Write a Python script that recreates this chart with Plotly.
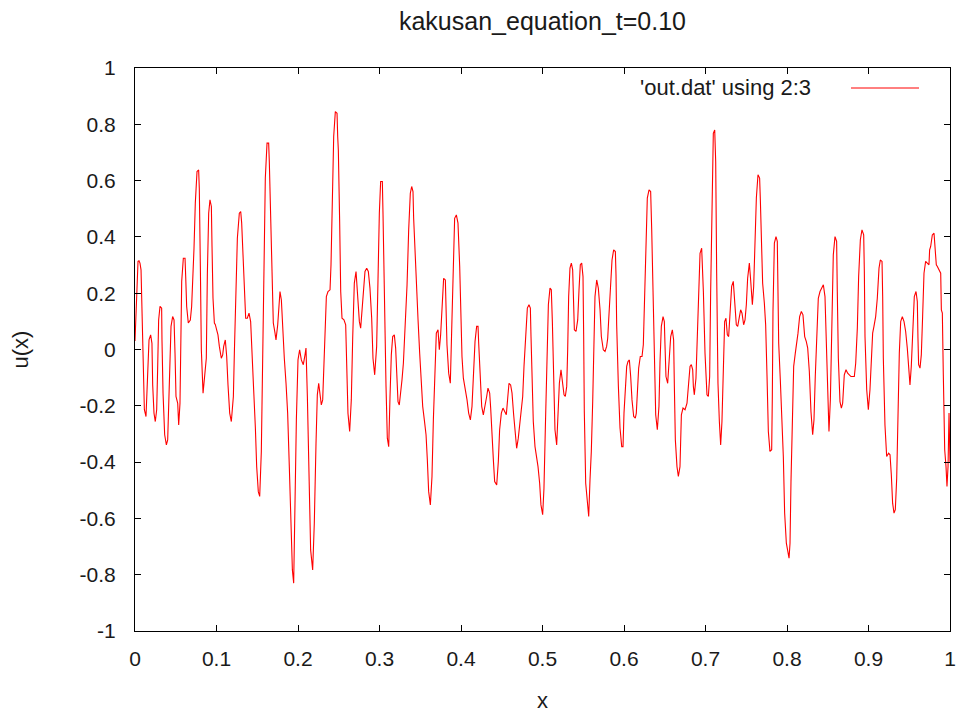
import plotly.graph_objects as go

# ---- data (x, u(x)) ----
seg1_x = [0.000, 0.0037, 0.0049, 0.0061, 0.0074, 0.0086, 0.0098, 0.0115, 0.0135, 0.0155, 0.0172, 0.0192, 0.0208, 0.0217, 0.0233, 0.0249, 0.0266, 0.0278, 0.0290, 0.0307, 0.0327, 0.0331, 0.0344, 0.0364, 0.0385, 0.0401, 0.0413, 0.0426, 0.0442, 0.0462, 0.0479, 0.0491, 0.0503, 0.0524, 0.0536, 0.0552, 0.0560, 0.0573, 0.0593, 0.0614, 0.0622, 0.0634, 0.0654, 0.0679, 0.0695, 0.0708, 0.0724, 0.0740, 0.0761, 0.0781, 0.0789, 0.0802, 0.0814, 0.0835, 0.0875, 0.0888, 0.0904, 0.0920, 0.0937, 0.0945, 0.0957, 0.0974]
seg1_u = [0.03, 0.313, 0.315, 0.307, 0.283, 0.123, -0.067, -0.214, -0.238, -0.084, 0.034, 0.052, 0.022, -0.126, -0.226, -0.256, -0.214, -0.066, 0.105, 0.153, 0.147, 0.034, -0.155, -0.303, -0.339, -0.321, -0.220, -0.060, 0.082, 0.117, 0.105, -0.013, -0.167, -0.191, -0.268, -0.191, 0.034, 0.242, 0.324, 0.324, 0.259, 0.153, 0.094, 0.105, 0.153, 0.236, 0.360, 0.520, 0.632, 0.638, 0.573, 0.295, -0.001, -0.155, -0.031, 0.271, 0.484, 0.532, 0.508, 0.366, 0.182, 0.094]

seg2_x = [0.0986, 0.1002, 0.1018, 0.1035, 0.1059, 0.1076, 0.1088, 0.1108, 0.1125, 0.1141, 0.1162, 0.1182, 0.1198, 0.1207, 0.1219, 0.1239, 0.1256, 0.1280, 0.1297, 0.1309, 0.1325, 0.1342, 0.1358, 0.1378, 0.1399, 0.1419, 0.1436, 0.1456, 0.1477, 0.1493, 0.1513, 0.1530, 0.1550, 0.1567, 0.1583, 0.1599, 0.1620, 0.1640, 0.1648, 0.1665, 0.1681, 0.1697, 0.1718, 0.1730, 0.1751, 0.1767, 0.1779, 0.1796, 0.1812, 0.1832, 0.1853, 0.1873, 0.1894, 0.1914, 0.1931, 0.1947, 0.1963, 0.1980]
seg2_u = [0.088, 0.070, 0.052, 0.011, -0.031, -0.019, 0.011, 0.034, -0.025, -0.125, -0.226, -0.256, -0.214, -0.167, -0.013, 0.218, 0.395, 0.484, 0.490, 0.449, 0.313, 0.182, 0.111, 0.111, 0.129, 0.099, 0.005, -0.143, -0.279, -0.416, -0.505, -0.522, -0.362, -0.054, 0.289, 0.609, 0.733, 0.733, 0.668, 0.484, 0.242, 0.094, 0.058, 0.034, 0.088, 0.170, 0.206, 0.176, 0.058, -0.031, -0.120, -0.226, -0.421, -0.646, -0.783, -0.830, -0.534, -0.250]

seg3_x = [0.2000, 0.2020, 0.2041, 0.2065, 0.2086, 0.2098, 0.2115, 0.2135, 0.2155, 0.2180, 0.2200, 0.2221, 0.2237, 0.2254, 0.2270, 0.2286, 0.2303, 0.2315, 0.2331, 0.2348, 0.2368, 0.2393, 0.2405, 0.2417, 0.2438, 0.2458, 0.2479, 0.2487, 0.2495, 0.2511, 0.2524, 0.2540, 0.2564, 0.2585, 0.2597, 0.2613, 0.2634, 0.2654, 0.2671, 0.2691, 0.2712, 0.2732, 0.2753, 0.2769, 0.2785, 0.2802, 0.2822, 0.2843, 0.2863, 0.2883, 0.2904, 0.2920, 0.2941]
seg3_u = [-0.037, -0.001, -0.037, -0.054, -0.019, 0.005, -0.167, -0.433, -0.712, -0.783, -0.617, -0.333, -0.161, -0.120, -0.155, -0.197, -0.179, -0.084, 0.088, 0.188, 0.206, 0.212, 0.301, 0.508, 0.757, 0.845, 0.839, 0.757, 0.709, 0.455, 0.206, 0.111, 0.105, 0.088, -0.043, -0.226, -0.291, -0.179, 0.040, 0.236, 0.277, 0.182, 0.099, 0.076, 0.135, 0.218, 0.277, 0.289, 0.277, 0.218, 0.111, -0.031, -0.090]

seg4_x = [0.2965, 0.2978, 0.2998, 0.3014, 0.3035, 0.3043, 0.3059, 0.3080, 0.3096, 0.3113, 0.3129, 0.3145, 0.3162, 0.3182, 0.3198, 0.3211, 0.3227, 0.3243, 0.3260, 0.3276, 0.3293, 0.3313, 0.3338, 0.3358, 0.3378, 0.3395, 0.3411, 0.3419, 0.3436, 0.3452, 0.3473, 0.3493, 0.3513, 0.3530, 0.3550, 0.3571, 0.3587, 0.3603, 0.3624, 0.3644, 0.3661, 0.3681, 0.3697, 0.3718, 0.3734, 0.3750, 0.3771, 0.3787, 0.3808, 0.3816, 0.3828, 0.3849, 0.3869, 0.3890, 0.3906, 0.3922, 0.3943, 0.3963]
seg4_u = [0.011, 0.224, 0.484, 0.597, 0.597, 0.484, 0.176, -0.131, -0.315, -0.345, -0.167, -0.019, 0.046, 0.052, 0.005, -0.108, -0.185, -0.197, -0.161, -0.108, -0.049, 0.070, 0.230, 0.425, 0.555, 0.579, 0.561, 0.466, 0.336, 0.200, 0.105, -0.013, -0.120, -0.202, -0.250, -0.303, -0.392, -0.504, -0.552, -0.451, -0.250, -0.025, 0.058, 0.070, -0.001, 0.052, 0.170, 0.253, 0.247, 0.176, 0.017, -0.084, -0.120, 0.117, 0.330, 0.466, 0.478, 0.449]

seg5_x = [0.3984, 0.3996, 0.4012, 0.4029, 0.4049, 0.4061, 0.4074, 0.4094, 0.4115, 0.4135, 0.4151, 0.4172, 0.4192, 0.4209, 0.4217, 0.4233, 0.4254, 0.4274, 0.4294, 0.4315, 0.4331, 0.4352, 0.4364, 0.4376, 0.4397, 0.4413, 0.4438, 0.4458, 0.4474, 0.4495, 0.4515, 0.4536, 0.4556, 0.4573, 0.4589, 0.4609, 0.4626, 0.4646, 0.4667, 0.4683, 0.4703, 0.4724, 0.4740, 0.4757, 0.4773, 0.4793, 0.4814, 0.4834, 0.4851, 0.4859, 0.4871, 0.4887, 0.4908, 0.4928, 0.4945, 0.4965, 0.4981]
seg5_u = [0.295, 0.123, -0.025, -0.102, -0.131, -0.149, -0.179, -0.226, -0.250, -0.202, -0.084, 0.028, 0.082, 0.082, 0.022, -0.090, -0.202, -0.232, -0.191, -0.167, -0.137, -0.155, -0.208, -0.291, -0.392, -0.469, -0.481, -0.398, -0.285, -0.226, -0.208, -0.220, -0.232, -0.173, -0.120, -0.126, -0.155, -0.232, -0.321, -0.351, -0.315, -0.262, -0.214, -0.167, -0.060, 0.046, 0.147, 0.159, 0.147, 0.046, -0.114, -0.256, -0.345, -0.380, -0.416, -0.475, -0.552]

seg6_x = [0.5002, 0.5018, 0.5035, 0.5051, 0.5072, 0.5092, 0.5108, 0.5121, 0.5137, 0.5153, 0.5174, 0.5190, 0.5207, 0.5227, 0.5247, 0.5264, 0.5280, 0.5297, 0.5309, 0.5321, 0.5337, 0.5354, 0.5370, 0.5378, 0.5391, 0.5411, 0.5432, 0.5448, 0.5464, 0.5481, 0.5497, 0.5505, 0.5513, 0.5530, 0.5550, 0.5567, 0.5583, 0.5599, 0.5616, 0.5632, 0.5644, 0.5665, 0.5685, 0.5706, 0.5722, 0.5746, 0.5767, 0.5787, 0.5800, 0.5812, 0.5832, 0.5853, 0.5873, 0.5894, 0.5902, 0.5910, 0.5931, 0.5951, 0.5972]
seg6_u = [-0.587, -0.493, -0.279, -0.037, 0.159, 0.218, 0.212, 0.099, -0.120, -0.285, -0.339, -0.250, -0.120, -0.072, -0.114, -0.161, -0.167, -0.131, -0.001, 0.188, 0.289, 0.307, 0.283, 0.165, 0.070, 0.064, 0.105, 0.212, 0.301, 0.307, 0.259, 0.052, -0.220, -0.475, -0.552, -0.593, -0.463, -0.362, -0.185, 0.022, 0.188, 0.247, 0.218, 0.141, 0.046, -0.001, -0.007, 0.011, 0.040, 0.105, 0.206, 0.318, 0.354, 0.348, 0.265, 0.088, -0.131, -0.279, -0.345]

seg7_x = [0.5988, 0.6000, 0.6016, 0.6033, 0.6049, 0.6066, 0.6082, 0.6098, 0.6119, 0.6139, 0.6151, 0.6164, 0.6180, 0.6200, 0.6221, 0.6237, 0.6254, 0.6270, 0.6286, 0.6307, 0.6327, 0.6340, 0.6356, 0.6372, 0.6389, 0.6409, 0.6429, 0.6442, 0.6458, 0.6479, 0.6495, 0.6503, 0.6515, 0.6536, 0.6552, 0.6573, 0.6593, 0.6609, 0.6618, 0.6630, 0.6650, 0.6667, 0.6687, 0.6695, 0.6704, 0.6724, 0.6749, 0.6773, 0.6789, 0.6810, 0.6826, 0.6843, 0.6851, 0.6863, 0.6883, 0.6900, 0.6916, 0.6933, 0.6953, 0.6974, 0.6994]
seg7_u = [-0.345, -0.226, -0.131, -0.060, -0.043, -0.037, -0.096, -0.179, -0.238, -0.244, -0.226, -0.143, -0.066, -0.025, -0.025, 0.017, 0.170, 0.360, 0.538, 0.567, 0.561, 0.425, 0.194, -0.072, -0.232, -0.285, -0.202, -0.043, 0.082, 0.117, 0.099, 0.017, -0.096, -0.120, -0.037, 0.046, 0.070, 0.034, -0.131, -0.321, -0.416, -0.451, -0.416, -0.309, -0.232, -0.208, -0.214, -0.191, -0.126, -0.060, -0.054, -0.072, -0.131, -0.161, -0.102, 0.034, 0.218, 0.342, 0.360, 0.206, -0.013]

seg8_x = [0.7018, 0.7035, 0.7051, 0.7063, 0.7080, 0.7096, 0.7113, 0.7125, 0.7137, 0.7153, 0.7170, 0.7186, 0.7202, 0.7219, 0.7235, 0.7251, 0.7268, 0.7284, 0.7301, 0.7321, 0.7341, 0.7358, 0.7378, 0.7395, 0.7411, 0.7431, 0.7448, 0.7468, 0.7485, 0.7501, 0.7517, 0.7538, 0.7554, 0.7575, 0.7591, 0.7607, 0.7624, 0.7644, 0.7664, 0.7673, 0.7685, 0.7701, 0.7722, 0.7738, 0.7755, 0.7771, 0.7791, 0.7812, 0.7820, 0.7828, 0.7845, 0.7865, 0.7881, 0.7890, 0.7898, 0.7918, 0.7935, 0.7955, 0.7971, 0.7992]
seg8_u = [-0.161, -0.167, -0.096, 0.200, 0.555, 0.768, 0.780, 0.668, 0.271, -0.120, -0.256, -0.339, -0.256, -0.037, 0.099, 0.111, 0.052, 0.046, 0.141, 0.224, 0.242, 0.159, 0.088, 0.082, 0.111, 0.141, 0.129, 0.088, 0.105, 0.159, 0.253, 0.307, 0.247, 0.159, 0.224, 0.354, 0.538, 0.621, 0.609, 0.532, 0.360, 0.236, 0.165, 0.088, -0.096, -0.291, -0.362, -0.356, -0.167, 0.135, 0.378, 0.401, 0.384, 0.212, 0.022, -0.108, -0.208, -0.380, -0.581, -0.688]

seg9_x = [0.8025, 0.8037, 0.8049, 0.8065, 0.8082, 0.8102, 0.8119, 0.8135, 0.8155, 0.8176, 0.8196, 0.8205, 0.8217, 0.8237, 0.8254, 0.8274, 0.8294, 0.8315, 0.8331, 0.8347, 0.8368, 0.8384, 0.8405, 0.8425, 0.8446, 0.8466, 0.8483, 0.8499, 0.8515, 0.8532, 0.8552, 0.8568, 0.8589, 0.8609, 0.8617, 0.8630, 0.8650, 0.8667, 0.8683, 0.8691, 0.8703, 0.8724, 0.8744, 0.8785, 0.8826, 0.8843, 0.8863, 0.8879, 0.8900, 0.8920, 0.8941, 0.8949, 0.8957, 0.8978, 0.8998]
seg9_u = [-0.741, -0.688, -0.469, -0.226, -0.060, -0.013, 0.017, 0.058, 0.117, 0.135, 0.123, 0.082, 0.046, 0.028, 0.005, -0.078, -0.220, -0.303, -0.250, -0.096, 0.088, 0.182, 0.206, 0.218, 0.230, 0.188, 0.034, -0.167, -0.291, -0.179, 0.105, 0.336, 0.401, 0.384, 0.206, -0.031, -0.185, -0.208, -0.191, -0.126, -0.090, -0.072, -0.084, -0.096, -0.096, -0.049, 0.076, 0.259, 0.390, 0.425, 0.407, 0.277, 0.046, -0.143, -0.214]

seg10_x = [0.9018, 0.9035, 0.9051, 0.9067, 0.9088, 0.9108, 0.9129, 0.9145, 0.9166, 0.9174, 0.9182, 0.9202, 0.9223, 0.9247, 0.9264, 0.9280, 0.9296, 0.9313, 0.9329, 0.9346, 0.9362, 0.9378, 0.9395, 0.9415, 0.9436, 0.9456, 0.9476, 0.9493, 0.9509, 0.9525, 0.9542, 0.9562, 0.9583, 0.9599, 0.9607, 0.9615, 0.9632, 0.9648, 0.9664, 0.9681, 0.9701, 0.9722, 0.9742, 0.9750, 0.9763, 0.9783, 0.9804, 0.9820, 0.9832, 0.9845, 0.9865, 0.9886, 0.9894, 0.9906, 0.9918, 0.9935, 0.9951, 0.9963, 0.9976, 0.9988, 1.0000]
seg10_u = [-0.143, -0.031, 0.058, 0.082, 0.117, 0.182, 0.289, 0.318, 0.313, 0.188, -0.031, -0.268, -0.380, -0.368, -0.374, -0.445, -0.546, -0.581, -0.569, -0.457, -0.208, -0.013, 0.099, 0.117, 0.099, 0.064, 0.005, -0.078, -0.126, -0.060, 0.076, 0.188, 0.206, 0.170, 0.040, -0.054, -0.066, -0.019, 0.117, 0.271, 0.313, 0.307, 0.301, 0.354, 0.366, 0.407, 0.413, 0.348, 0.301, 0.295, 0.283, 0.271, 0.141, 0.129, -0.090, -0.356, -0.416, -0.487, -0.416, -0.226, -0.400]

x_ticks = [0, 0.1, 0.2, 0.3, 0.4, 0.5, 0.6, 0.7, 0.8, 0.9, 1]
x_tick_labels = ["0", "0.1", "0.2", "0.3", "0.4", "0.5", "0.6", "0.7", "0.8", "0.9", "1"]
y_ticks = [-1, -0.8, -0.6, -0.4, -0.2, 0, 0.2, 0.4, 0.6, 0.8, 1]
y_tick_labels = ["-1", "-0.8", "-0.6", "-0.4", "-0.2", "0", "0.2", "0.4", "0.6", "0.8", "1"]

title_text = "kakusan_equation_t=0.10"
legend_text = "'out.dat' using 2:3"

segs_x = [seg1_x, seg2_x, seg3_x, seg4_x, seg5_x, seg6_x, seg7_x, seg8_x, seg9_x, seg10_x]
segs_u = [seg1_u, seg2_u, seg3_u, seg4_u, seg5_u, seg6_u, seg7_u, seg8_u, seg9_u, seg10_u]
x_values, u_values = [], []
for sx, su in zip(segs_x, segs_u):
    assert len(sx) == len(su)
    x_values += sx
    u_values += su

FONT = "Liberation Sans, Arial, sans-serif"
TXT = "#1a1a1a"

fig = go.Figure()
fig.add_trace(go.Scatter(x=x_values, y=u_values, mode="lines",
                         line=dict(color="#ff0000", width=1.1),
                         showlegend=False, hoverinfo="skip"))

axis_common = dict(showline=True, linecolor="#000000", linewidth=1,
                   mirror="ticks", ticks="inside", ticklen=6, tickcolor="#000000",
                   tickwidth=1, showgrid=False, zeroline=False, automargin=False,
                   tickfont=dict(family=FONT, size=21, color=TXT))

fig.update_layout(
    width=956, height=713,
    margin=dict(l=135, r=6, t=68, b=82),
    paper_bgcolor="white", plot_bgcolor="white",
    font=dict(family=FONT, size=21, color=TXT),
    title=dict(text=title_text, x=0.5, xref="paper", xanchor="center",
               y=1 - 21 / 713, yref="container", yanchor="middle",
               font=dict(family=FONT, size=25, color=TXT)),
    xaxis=dict(range=[0, 1], tickvals=x_ticks, ticktext=x_tick_labels,
               title=dict(text="x", standoff=27, font=dict(family=FONT, size=22, color=TXT)),
               ticklabelstandoff=9, **axis_common),
    yaxis=dict(range=[-1, 1], tickvals=y_ticks, ticktext=y_tick_labels,
               title=dict(text="u(x)", standoff=44, font=dict(family=FONT, size=22, color=TXT)),
               ticklabelstandoff=14, **axis_common),
    showlegend=False,
)

# gnuplot-style key: text then line sample, top-right inside the plot
key_y = (631 - 88) / 563
fig.add_annotation(text=legend_text, xref="paper", yref="paper",
                   x=(813 - 135) / 815, y=key_y, xanchor="right", yanchor="middle",
                   showarrow=False, font=dict(family=FONT, size=22, color=TXT))
fig.add_shape(type="line", xref="paper", yref="paper",
              x0=(851 - 135) / 815, x1=(919 - 135) / 815, y0=key_y, y1=key_y,
              line=dict(color="#ff0000", width=1))

fig.write_html("out.html")
